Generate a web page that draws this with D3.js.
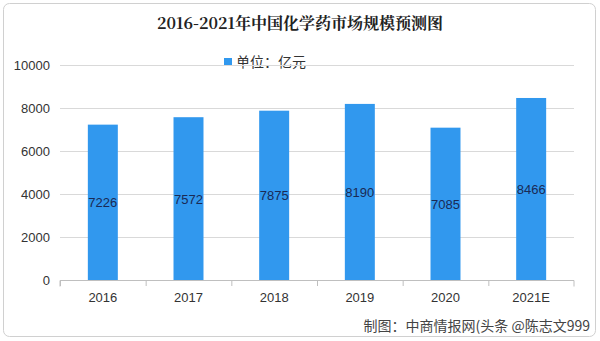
<!DOCTYPE html>
<html><head><meta charset="utf-8">
<script src="https://cdn.jsdelivr.net/npm/d3@7"></script>
<style>body{margin:0;background:#fff}svg{display:block}</style>
</head><body>
<svg id="c" width="600" height="341"></svg>
<script>
const categories = ["2016","2017","2018","2019","2020","2021E"];
const values = [7226, 7572, 7875, 8190, 7085, 8466];
const yTicks = [0, 2000, 4000, 6000, 8000, 10000];
const title = "2016-2021年中国化学药市场规模预测图";
const legendLabel = "单位：亿元";
const source = "制图：中商情报网(头条 @陈志文999";

const svg = d3.select("#c");
const W = 600, H = 341;
const m = {l: 60, r: 26, t: 65, b: 61};
const x = d3.scaleBand().domain(categories).range([m.l, W - m.r]).paddingInner(0.65).paddingOuter(0.325);
const xb = d3.scaleBand().domain(categories).range([m.l, W - m.r]);
const y = d3.scaleLinear().domain([0, 10000]).range([H - m.b, m.t]);
const font = "'Noto Sans CJK SC', 'Noto Sans', sans-serif";

svg.append("rect").attr("x", 3.5).attr("y", 3.5).attr("width", 592).attr("height", 333)
  .attr("rx", 6).attr("fill", "#fff").attr("stroke", "#d0d0d0");

svg.append("text").attr("x", 300).attr("y", 29).attr("text-anchor", "middle")
  .attr("font-family", "'Noto Serif CJK SC', 'Noto Sans CJK SC', serif").attr("font-weight", "bold")
  .attr("font-size", 16).attr("fill", "#222").text(title);

// legend
svg.append("rect").attr("x", 224).attr("y", 58).attr("width", 8).attr("height", 8).attr("fill", "#3198ee");
svg.append("text").attr("x", 236).attr("y", 67).attr("font-family", font).attr("font-size", 14)
  .attr("fill", "#333").text(legendLabel);

// grid
svg.append("g").selectAll("line").data(yTicks.filter(d => d > 0)).join("line")
  .attr("x1", m.l).attr("x2", W - m.r).attr("y1", d => y(d) + 0.5).attr("y2", d => y(d) + 0.5)
  .attr("stroke", "#d9d9d9");

// y axis labels
const ya = svg.append("g").attr("transform", `translate(${m.l},0)`)
  .call(d3.axisLeft(y).tickValues(yTicks).tickSize(0).tickPadding(10).tickFormat(d3.format("d")));
ya.select(".domain").remove();
ya.selectAll("text").attr("font-family", "'Liberation Sans', sans-serif").attr("font-size", 13).attr("fill", "#333");

// bars
svg.append("g").selectAll("rect").data(values).join("rect")
  .attr("x", (d, i) => x(categories[i])).attr("width", x.bandwidth())
  .attr("y", d => y(d)).attr("height", d => y(0) - y(d)).attr("fill", "#3198ee");

// value labels
svg.append("g").selectAll("text").data(values).join("text")
  .attr("x", (d, i) => x(categories[i]) + x.bandwidth() / 2)
  .attr("y", d => (y(d) + y(0)) / 2 + 5)
  .attr("text-anchor", "middle").attr("font-family", "'Liberation Sans', sans-serif")
  .attr("font-size", 13).attr("fill", "#1a2a55").text(d => d);

// x axis
const xa = svg.append("g").attr("transform", `translate(0,${y(0) + 0.5})`)
  .call(d3.axisBottom(xb).tickSize(0).tickPadding(12));
xa.select(".domain").attr("stroke", "#bfbfbf").attr("d", `M${m.l},6V0H${W - m.r}V6`);
xa.selectAll("text").attr("font-family", "'Liberation Sans', sans-serif").attr("font-size", 13).attr("fill", "#333");
svg.append("g").selectAll("line").data(categories).join("line")
  .attr("x1", d => xb(d) + 0.5).attr("x2", d => xb(d) + 0.5)
  .attr("y1", y(0)).attr("y2", y(0) + 6).attr("stroke", "#bfbfbf");

svg.append("text").attr("x", 590).attr("y", 331).attr("text-anchor", "end")
  .attr("font-family", font).attr("font-size", 14).attr("fill", "#444").text(source);
</script>
</body></html>
